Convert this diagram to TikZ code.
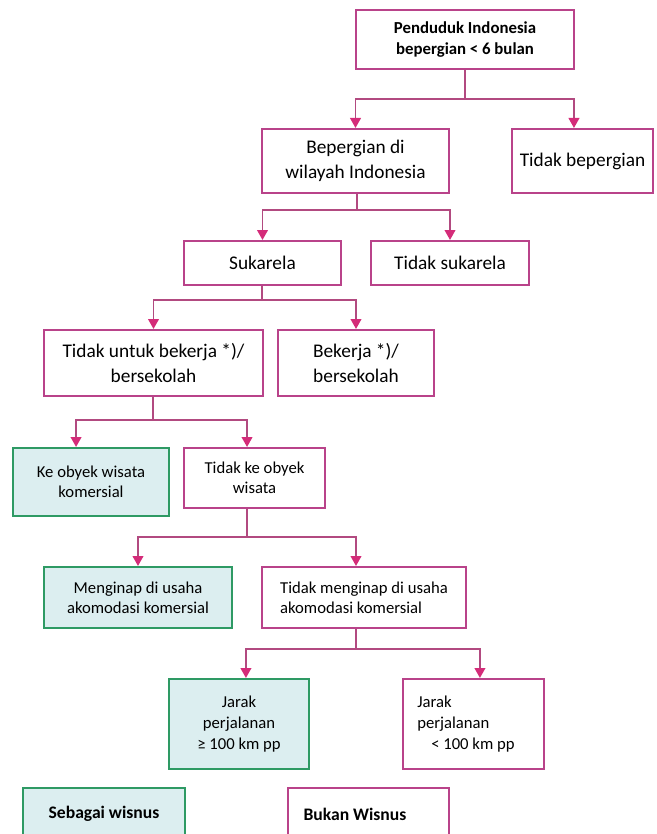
\documentclass[tikz,border=0pt]{standalone}
\usepackage{fontspec}
\setmainfont{Carlito}
\usepackage{xcolor}
\definecolor{pinkbox}{HTML}{B9438A}
\definecolor{pinkline}{HTML}{B24A80}
\definecolor{pinktip}{HTML}{D42C79}
\definecolor{greenbox}{HTML}{2E9A64}
\definecolor{greenfill}{HTML}{DCEEF0}
\usetikzlibrary{arrows.meta, positioning, calc}

\begin{document}
\begin{tikzpicture}[
  x=0.75pt, y=-0.75pt,
  every node/.style={font=\fontsize{14.5}{18.5}\selectfont},
  wh/.style 2 args={minimum width=#1*0.75pt, minimum height=#2*0.75pt},
  box/.style={rectangle, draw=pinkbox, line width=1.5pt, fill=white,
              align=center, inner sep=2pt},
  okbox/.style={box, draw=greenbox, fill=greenfill},
  small/.style={font=\fontsize{12.5}{15}\selectfont},
  jarak/.style={font=\fontsize{12.5}{16}\selectfont},
  boldtxt/.style={font=\bfseries\fontsize{12.6}{15.5}\selectfont},
  endtxt/.style={font=\bfseries\fontsize{13.2}{16}\selectfont},
  line/.style={draw=pinkline, line width=1.4pt},
  arr/.style={line, -{Triangle[length=7.5pt, width=8pt, color=pinktip]}},
]
\useasboundingbox (0,0) rectangle (656,834);

%% Boxes
\node[box, wh={218}{59}, boldtxt] (pend) at (465,39.5)
     {Penduduk Indonesia\\bepergian < 6 bulan};
\node[box, wh={187}{64}] (bep)  at (355.5,161) {Bepergian di\\wilayah Indonesia};
\node[box, wh={141}{64}] (tbep) at (582.5,161) {Tidak bepergian};

\node[box, wh={157}{44}] (suk)  at (262.5,263) {Sukarela};
\node[box, wh={158}{44}] (tsuk) at (450,263)   {Tidak sukarela};

\node[box, wh={219}{66}] (tkerja) at (153.5,363) {Tidak untuk bekerja *)/\\bersekolah};
\node[box, wh={156}{66}] (kerja)  at (356,363)   {Bekerja *)/\\bersekolah};

\node[okbox, small, wh={156}{68}] (obyek)  at (91,482)    {Ke obyek wisata\\komersial};
\node[box, small, wh={141}{60}]   (tobyek) at (254.5,478) {Tidak ke obyek\\wisata};

\node[okbox, small, wh={188}{61}] (inap) at (138,597.5) {Menginap di usaha\\akomodasi komersial};
\node[box, small, wh={204}{61}, align=left] (tinap) at (364,597.5)
     {Tidak menginap di usaha\\akomodasi komersial};

\node[okbox, jarak, wh={140}{90}] (jauh) at (239,724)
     {Jarak\\perjalanan\\≥ 100 km pp};
\node[box, wh={141}{90}] (dekat) at (473,724) {};
\node[jarak, align=left, anchor=west, inner sep=0pt]
     (dekattxt) at ([xshift=15.5*0.75pt]dekat.west)
     {Jarak\\perjalanan\\\hspace*{10.5pt}< 100 km pp};

\node[okbox, wh={162}{52}, endtxt] (wisnus) at (104,814) {Sebagai wisnus};
\node[box, wh={161}{52}, endtxt] (bukan) at (368.5,814)
     {\makebox[97.5pt][l]{Bukan Wisnus}};

%% Connectors
\coordinate (j1) at (465,99);
\coordinate (j2) at (357,210);
\coordinate (j3) at (262,300);
\coordinate (j4) at (153,420);
\coordinate (j5) at (247,537);
\coordinate (j6) at (356,649);

\draw[line] (pend.south -| j1) -- (j1);
\draw[arr] (j1) -| (bep.north);
\draw[arr] (j1) -| ([xshift=-6.4pt]tbep.north);

\draw[line] (bep.south -| j2) -- (j2);
\draw[arr] (j2) -| (suk.north);
\draw[arr] (j2) -| (tsuk.north);

\draw[line] (suk.south -| j3) -- (j3);
\draw[arr] (j3) -| (tkerja.north);
\draw[arr] (j3) -| (kerja.north);

\draw[line] (tkerja.south -| j4) -- (j4);
\draw[arr] (j4) -| ([xshift=-11.2pt]obyek.north);
\draw[arr] (j4) -| ([xshift=-5.6pt]tobyek.north);

\draw[line] (tobyek.south -| j5) -- (j5);
\draw[arr] (j5) -| (inap.north);
\draw[arr] (j5) -| ([xshift=-6pt]tinap.north);

\draw[line] (tinap.south -| j6) -- (j6);
\draw[arr] (j6) -| ([xshift=5.2pt]jauh.north);
\draw[arr] (j6) -| ([xshift=5.2pt]dekat.north);

\end{tikzpicture}
\end{document}
